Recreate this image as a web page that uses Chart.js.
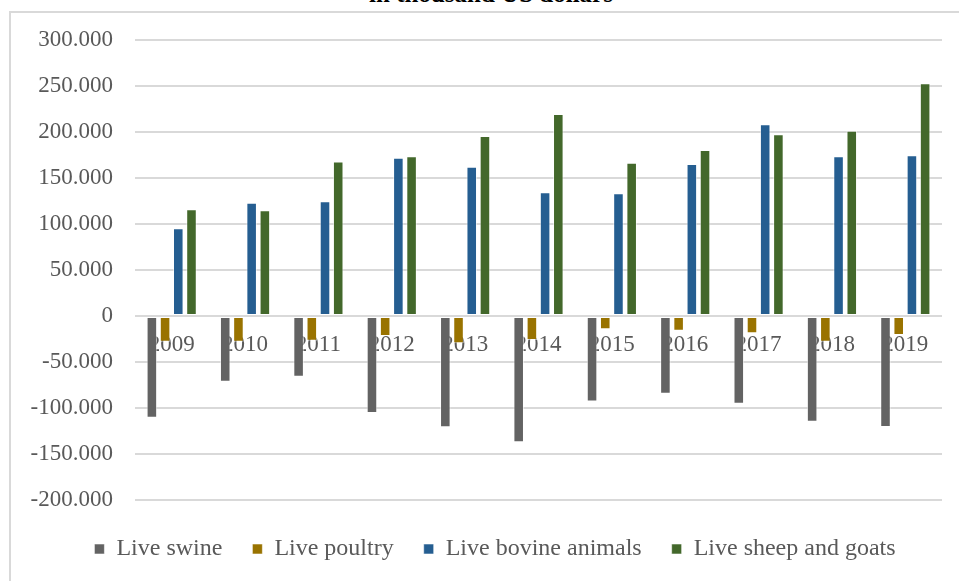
<!DOCTYPE html>
<html>
<head>
<meta charset="utf-8">
<script src="https://cdn.jsdelivr.net/npm/chart.js@4/dist/chart.umd.min.js"></script>
<style>
  html, body { margin: 0; padding: 0; background: #ffffff; overflow: hidden; }
  #wrap { position: relative; width: 959px; height: 581px; overflow: hidden; }
  #frame {
    position: absolute; left: 9px; top: 11px; width: 1000px; height: 700px;
    border: 2px solid #d9d9d9; box-sizing: border-box;
  }
  #title {
    position: absolute; left: 0; top: -21px; width: 982px; text-align: center;
    font-family: "Liberation Serif", "Times New Roman", serif; font-weight: bold;
    font-size: 25px; line-height: 30px; color: #000000; white-space: nowrap;
  }
  #chartBox { position: absolute; left: 0; top: 0; width: 959px; height: 581px; }
</style>
</head>
<body>
<div id="wrap">
  <div id="frame"></div>
  <div id="title">in thousand US dollars</div>
  <div id="chartBox"><canvas id="c" width="959" height="581"></canvas></div>
</div>
<script>
// Trade balance of live animals, in thousand US dollars
const years = ['2009', '2010', '2011', '2012', '2013', '2014', '2015', '2016', '2017', '2018', '2019'];
const seriesNames = ['Live swine', 'Live poultry', 'Live bovine animals', 'Live sheep and goats'];

const liveSwine   = [-110500, -71500, -66000, -105500, -121000, -137300, -92800, -84400, -95300, -114900, -120700];
const livePoultry = [-28000, -28000, -27000, -21700, -29700, -26000, -14500, -16000, -18800, -27900, -20700];
const liveBovine  = [95300, 123200, 124600, 172000, 162300, 134400, 133300, 165200, 208300, 173600, 174600];
const liveSheep   = [116000, 114900, 168000, 173600, 195700, 219600, 166700, 180400, 197500, 201400, 252900];

const yMin = -200000;
const yMax = 300000;
const yStep = 50000;

const colors = ['#636363', '#997300', '#255e91', '#43682b'];
const serif = '"Liberation Serif", "Times New Roman", serif';
const textGray = '#595959';

// thousands separated with dots, e.g. 150.000
function formatValue(v) {
  if (v === 0) return '0';
  const sign = v < 0 ? '-' : '';
  return sign + String(Math.abs(Math.round(v))).replace(/\B(?=(\d{3})+(?!\d))/g, '.');
}

const seriesValues = [liveSwine, livePoultry, liveBovine, liveSheep];
const datasets = seriesNames.map((name, i) => ({
  label: name,
  data: seriesValues[i],
  backgroundColor: colors[i],
  borderColor: 'rgba(255,255,255,0.55)',
  borderWidth: 1,
  borderSkipped: false,
  categoryPercentage: 0.72,
  barPercentage: 0.8
}));

// centre the legend row under the plot and drop it a little below the axis area
const legendShift = {
  id: 'legendShift',
  afterLayout(chart) {
    if (chart.legend) {
      chart.legend.left += 48;
      chart.legend.top += 7;
      chart.legend.bottom += 7;
    }
  }
};

new Chart(document.getElementById('c'), {
  type: 'bar',
  data: { labels: years, datasets: datasets },
  plugins: [legendShift],
  options: {
    responsive: false,
    animation: false,
    devicePixelRatio: 1,
    layout: { padding: { left: 0, right: 17, top: 40, bottom: 17 } },
    plugins: {
      title: { display: false },
      tooltip: { enabled: false },
      legend: {
        display: true,
        position: 'bottom',
        labels: {
          boxWidth: 10,
          boxHeight: 10,
          padding: 30,
          color: textGray,
          font: { family: serif, size: 24 }
        }
      }
    },
    scales: {
      x: {
        position: { y: 0 },
        z: 1,
        grid: { display: false, drawTicks: false },
        border: { display: false },
        ticks: {
          color: textGray,
          padding: 15,
          maxRotation: 0,
          font: { family: serif, size: 23 }
        }
      },
      y: {
        min: yMin,
        max: yMax,
        afterFit: (scale) => { scale.width = 135; },
        grid: { color: '#d9d9d9', lineWidth: 2, drawTicks: false },
        border: { display: false },
        ticks: {
          stepSize: yStep,
          padding: 22,
          color: textGray,
          font: { family: serif, size: 23 },
          callback: (v) => formatValue(v)
        }
      }
    }
  }
});
</script>
</body>
</html>
